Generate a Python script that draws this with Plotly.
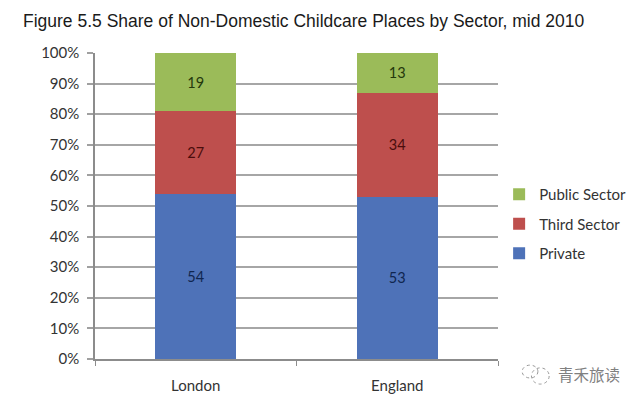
import plotly.graph_objects as go

regions = ["London", "England"]
private = [54, 53]
third_sector = [27, 34]
public_sector = [19, 13]
y_ticks = [0, 10, 20, 30, 40, 50, 60, 70, 80, 90, 100]
y_tick_labels = ["0%", "10%", "20%", "30%", "40%", "50%", "60%", "70%", "80%", "90%", "100%"]

series = [
    ("Private", private, "#4e72b8", "#10264f", 3),
    ("Third Sector", third_sector, "#be4f4d", "#4a0d0c", 2),
    ("Public Sector", public_sector, "#9bbb59", "#24380c", 1),
]

fig = go.Figure()
for name, values, color, text_color, rank in series:
    fig.add_trace(go.Bar(x=regions, y=values, name=name, legendgroup=name, legendrank=rank,
                         marker=dict(color=color, line=dict(width=0)),
                         text=values, textposition="inside", insidetextanchor="middle",
                         textangle=0, constraintext="none",
                         textfont=dict(family="Lato", size=14.5, color=text_color)))

# the page adds an 8px body margin, so the figure is 8px smaller than the window
fig.update_layout(
    width=632, height=395,
    barmode="stack", bargap=0.6,
    margin=dict(l=87, r=142, t=45, b=44, autoexpand=False),
    paper_bgcolor="white", plot_bgcolor="white",
    font=dict(family="Lato", size=14, color="#333333"),
    title=dict(text="Figure 5.5 Share of Non-Domestic Childcare Places by Sector, mid 2010",
               x=15 / 632, xanchor="left", xref="container", y=1 - 13 / 395, yanchor="middle",
               font=dict(family="Liberation Sans", size=17.5, color="#1a1a1a")),
    legend=dict(x=1.0028, xanchor="left", y=0.441, yanchor="middle", traceorder="grouped",
                tracegroupgap=7, font=dict(family="Lato", size=15, color="#333333"),
                itemwidth=30, bgcolor="rgba(0,0,0,0)"),
    xaxis=dict(tickson="boundaries", ticks="outside", ticklen=5, tickcolor="#8c8c8c", tickwidth=1,
               ticklabelstandoff=12,
               showline=True, linecolor="#8c8c8c", linewidth=2, showgrid=False,
               tickfont=dict(family="Lato", size=15, color="#333333")),
    yaxis=dict(range=[0, 100], tickvals=y_ticks, ticktext=y_tick_labels, ticks="outside", ticklen=6,
               ticklabelstandoff=5,
               tickcolor="#a0a0a0", tickwidth=1.5, showline=True, linecolor="#8c8c8c", linewidth=1.5,
               showgrid=True, gridcolor="#a6a6a6", gridwidth=1.5, zeroline=False,
               tickfont=dict(family="Lato", size=15, color="#333333")),
    annotations=[dict(text="青禾旅读", xref="paper", yref="paper", x=1.144, y=-0.049,
                      xanchor="left", yanchor="middle", showarrow=False,
                      font=dict(family="Noto Sans CJK SC", size=15.5, color="#808080"))],
)

# dotted speech-bubble mark beside the watermark
fig.add_shape(type="circle", xref="paper", yref="paper", x0=1.083, x1=1.127, y0=-0.082, y1=-0.029,
              line=dict(color="#999999", width=1, dash="dot"))
fig.add_shape(type="circle", xref="paper", yref="paper", x0=1.06, x1=1.099, y0=-0.062, y1=-0.02,
              line=dict(color="#999999", width=1, dash="dot"))

fig.write_html("out.html")
